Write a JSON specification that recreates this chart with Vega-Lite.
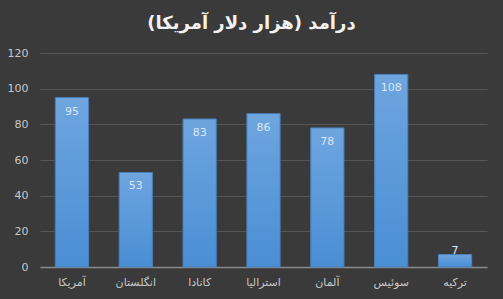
{
  "$schema": "https://vega.github.io/schema/vega-lite/v6.json",
  "width": 447,
  "height": 214,
  "autosize": {"type": "none"},
  "padding": {"left": 40, "top": 53, "right": 16, "bottom": 32},
  "background": "#3a3a3a",
  "title": {
    "text": "درآمد (هزار دلار آمریکا)",
    "font": "DejaVu Sans",
    "fontSize": 18,
    "fontWeight": "bold",
    "color": "#f2f2f2",
    "anchor": "middle",
    "offset": 14,
    "dx": -12
  },
  "config": {
    "view": {"stroke": null},
    "font": "DejaVu Sans"
  },
  "data": {
    "values": [
      {"country": "آمریکا", "value": 95},
      {"country": "انگلستان", "value": 53},
      {"country": "کانادا", "value": 83},
      {"country": "استرالیا", "value": 86},
      {"country": "آلمان", "value": 78},
      {"country": "سوئیس", "value": 108},
      {"country": "ترکیه", "value": 7}
    ]
  },
  "encoding": {
    "x": {
      "field": "country",
      "type": "nominal",
      "sort": null,
      "scale": {"paddingInner": 0.48, "paddingOuter": 0.24},
      "axis": {
        "title": null,
        "labelAngle": 0,
        "labelColor": "#c8c8c8",
        "labelFontSize": 11,
        "labelPadding": 9,
        "ticks": false,
        "domainColor": "#8a8a8a",
        "domainWidth": 1.5,
        "grid": false
      }
    },
    "y": {
      "field": "value",
      "type": "quantitative",
      "scale": {"domain": [0, 120]},
      "axis": {
        "title": null,
        "values": [0, 20, 40, 60, 80, 100, 120],
        "labelColor": "#c8c8c8",
        "labelFontSize": 11,
        "labelPadding": 12,
        "ticks": false,
        "domain": false,
        "gridColor": "#555555",
        "gridWidth": 1
      }
    }
  },
  "layer": [
    {
      "mark": {
        "type": "bar",
        "stroke": "#4a7fba",
        "strokeWidth": 1,
        "color": {
          "gradient": "linear",
          "x1": 0, "y1": 0, "x2": 0, "y2": 1,
          "stops": [
            {"offset": 0, "color": "#6ea5df"},
            {"offset": 1, "color": "#4a8ed4"}
          ]
        }
      }
    },
    {
      "transform": [{"filter": "datum.value >= 15"}],
      "mark": {
        "type": "text",
        "baseline": "middle",
        "dy": 14,
        "fontSize": 11,
        "color": "#dce6f2"
      },
      "encoding": {"text": {"field": "value", "type": "quantitative"}}
    },
    {
      "transform": [{"filter": "datum.value < 15"}],
      "mark": {
        "type": "text",
        "baseline": "bottom",
        "dy": 1,
        "fontSize": 11,
        "color": "#dce6f2"
      },
      "encoding": {"text": {"field": "value", "type": "quantitative"}}
    }
  ]
}
